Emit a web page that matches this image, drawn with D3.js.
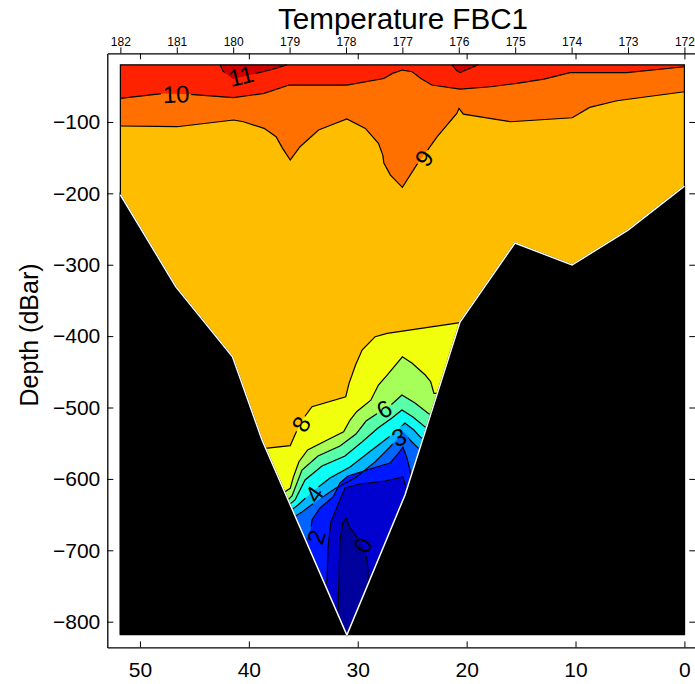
<!DOCTYPE html>
<html>
<head>
<meta charset="utf-8">
<script src="https://cdn.jsdelivr.net/npm/d3@7"></script>
<style>
  body { margin: 0; background: #fff; }
  svg text { font-family: "Liberation Sans", Arial, Helvetica, sans-serif; }
</style>
</head>
<body>
<div id="chart"></div>
<script>
// distance along section (km) and pressure (dBar)
const sectionEdges = [51.8, 0];
const surfaceDepth = -20;
const bottomDepth = -818;

const xTicks = [50, 40, 30, 20, 10, 0];
const yTicks = [-800, -700, -600, -500, -400, -300, -200, -100];
const lonTicks = [182, 181, 180, 179, 178, 177, 176, 175, 174, 173, 172];
const lonAtEdges = [182, 172];

// warm lobes (>11 degC) touching the surface
const lobe11a = [[42.65, -20], [42.38, -28.6], [41.83, -35.6], [41.46, -39.8], [39.9, -34.2], [38.06, -27.2], [36.5, -20]];
const lobe11b = [[21.34, -20], [20.91, -28], [20.61, -31], [18.93, -20]];

// isotherms, ordered from west (left) to east (right)
const iso10 = [[51.8, -67], [47.8, -60], [45.4, -61.3], [41.4, -66], [38.6, -60], [36.3, -48.3], [31.0, -48.3],
  [27.6, -39.2], [26.8, -32], [25.9, -27.3], [25.0, -29.7], [24.2, -39], [23.2, -48.3], [20.6, -54],
  [17.8, -50.7], [15.4, -46], [12.9, -40], [10.5, -31], [5.3, -31], [0, -22.7]];
const iso9 = [[51.8, -105.7], [46.6, -106.7], [41.4, -97.3], [40.5, -99.7], [38.6, -109], [37.5, -120.7],
  [36.9, -137], [36.2, -153.4], [35.3, -134.7], [33.6, -111.3], [32.2, -102.9], [31.0, -95.8], [29.3, -109],
  [28.1, -130], [27.7, -146.4], [27.6, -157.6], [27.0, -174.4], [25.9, -191.6], [24.6, -160.4], [23.8, -144],
  [22.7, -120.7], [20.9, -88], [20.7, -81], [20.3, -89], [16.0, -99.7], [10.3, -94.1], [8.7, -79.6],
  [6.2, -70.3], [0, -57.7]];
const iso8 = [[39.6, -557], [38.5, -557.1], [36.2, -553.5], [35.7, -536.1], [35.1, -517.5], [34.2, -498.9],
  [31.1, -484.9], [30.8, -466.1], [30.2, -440.5], [29.6, -419.5], [28.4, -400.8], [27.3, -396.1],
  [20.6, -381.2], [19.6, -381]];
const iso7 = [[37.9, -620.2], [36.9, -620.2], [36.2, -613.2], [35.9, -596.9], [35.4, -575.9], [34.6, -559.5],
  [32.8, -545.5], [31.3, -533.9], [30.7, -517.5], [30.1, -505.9], [28.8, -489.8], [28.1, -468.5],
  [27.3, -454.5], [25.9, -428.9], [25.0, -438.1], [23.8, -454.5], [23.3, -463.9], [23.0, -480.1], [22.0, -480]];
const iso6 = [[37.9, -636.5], [36.86, -636.5], [36.04, -623.9], [35.12, -587.5], [33.65, -567.9], [31.63, -553.9],
  [30.16, -537.1], [29.24, -518.9], [28.14, -507.7], [26.95, -496.5], [25.94, -482.5], [24.74, -493.7],
  [23.46, -509.1], [22.3, -509]];
const iso5 = [[37.8, -642.1], [36.77, -642.1], [35.76, -629.5], [34.84, -601.5], [33.28, -581.9], [31.17, -567.9],
  [29.61, -548.3], [28.14, -528.7], [26.86, -514.7], [25.94, -503.5], [24.93, -513.3], [23.82, -527.3],
  [22.6, -527]];
const iso4 = [[37.6, -649.1], [36.59, -649.1], [35.49, -636.5], [34.2, -618.3], [32.55, -598.7], [30.71, -583.3],
  [29.06, -563.7], [27.5, -545.5], [26.31, -531.5], [25.67, -521.7], [24.84, -531.5], [24.19, -542.7],
  [23.0, -543]];
const iso3 = [[37.3, -657.5], [36.31, -657.5], [35.12, -646.3], [33.65, -629.5], [31.99, -612.7], [30.24, -598.7],
  [28.42, -576.3], [27.04, -555.3], [26.31, -542.7], [25.76, -534.3], [25.2, -545.5], [24.46, -556.7],
  [23.3, -557]];
const iso2 = [[36.3, -692.6], [35.3, -692.6], [34.38, -678.6], [34.2, -657.5], [33.47, -640.7], [32.27, -625.3],
  [31.63, -605.7], [30.9, -595.9], [28.87, -586.1], [27.04, -577.7], [26.31, -565.1], [25.85, -555.3],
  [25.48, -570.7], [25.2, -587.5], [25.02, -604.3], [24.0, -604]];
const iso1 = [[34.3, -762.6], [33.28, -762.6], [32.82, -741.6], [32.73, -695.4], [32.46, -660.3], [31.91, -639.3],
  [31.17, -612.7], [29.79, -607.1], [27.5, -602.9], [25.85, -597.3], [25.57, -611.3], [25.2, -625.3],
  [24.3, -625]];
const iso0 = [[33.2, -797.6], [32.27, -797.6], [31.81, -783.6], [31.72, -741.6], [31.63, -685.6], [31.35, -660.3],
  [31.07, -654.7], [30.71, -668.8], [29.98, -682.8], [29.24, -702.4], [29.06, -727.6], [29.06, -762.6],
  [28.2, -762.6]];

// sea floor, west to east
const seafloor = [[51.8, -202], [46.7, -331], [41.5, -429], [38.79, -545.5], [31.0, -818.6], [25.66, -622.5],
  [20.61, -380.2], [15.56, -269.6], [10.32, -300.4], [5.18, -251.4], [0, -189.8]];

// contour label anchors: [level, distance, depth]
const labelSpots = [[10, 46.69, -60.9], [11, 40.73, -35.6], [9, 23.91, -150.5], [8, 35.21, -523.1],
  [6, 27.58, -502.1], [3, 26.22, -541.3], [4, 34.02, -621.1], [2, 33.83, -681.4], [0, 29.53, -692.6]];

// drawing -----------------------------------------------------------------
const W = 695, H = 684;
const svg = d3.select("#chart").append("svg")
  .attr("width", W).attr("height", H);

const x = d3.scaleLinear().domain([53, -1]).range([107.3, 695.3]);
const y = d3.scaleLinear().domain([-836, -4]).range([647.4, 53.4]);
const lon = d3.scaleLinear().domain(lonAtEdges).range([x(sectionEdges[0]), x(sectionEdges[1])]);

const line = d3.line().x(p => x(p[0])).y(p => y(p[1]));

// colder-than-level regions, painted warm to cold
const below = pts => {
  const a = pts[0], b = pts[pts.length - 1];
  return line([...pts, [b[0], bottomDepth], [a[0], bottomDepth]]) + "Z";
};

const tilt = { 10: -3, 11: -14, 9: -55, 8: -62, 6: -28, 3: -22, 4: -55, 2: -72, 0: -62 };
const place = d => `translate(${x(d[1])},${y(d[2])}) rotate(${tilt[d[0]]})`;
const labelW = d => String(d[0]).length * 13 + 4;

// gaps in the contour lines where labels sit
const mask = svg.append("defs").append("mask").attr("id", "gaps").attr("maskUnits", "userSpaceOnUse")
  .attr("x", 0).attr("y", 0).attr("width", W).attr("height", H);
mask.append("rect").attr("width", W).attr("height", H).attr("fill", "#fff");
mask.selectAll("rect.gap").data(labelSpots).join("rect")
  .attr("class", "gap")
  .attr("x", d => -labelW(d) / 2).attr("y", -9).attr("width", labelW).attr("height", 18)
  .attr("transform", place).attr("fill", "#000");

const plot = svg.append("g");
const [dW, dE] = sectionEdges;
const box = [[dW, surfaceDepth], [dE, surfaceDepth], [dE, bottomDepth], [dW, bottomDepth]];

plot.append("path").attr("d", line(box) + "Z").attr("fill", "#ff2200");
[lobe11a, lobe11b].forEach(l => plot.append("path").attr("d", line(l) + "Z").attr("fill", "#d00000"));

const isoList = [
  [iso10, "#ff7000"], [iso9, "#ffbd00"], [iso8, "#f2ff0c"], [iso7, "#a6ff58"], [iso6, "#56ffa8"],
  [iso5, "#0cfff2"], [iso4, "#00b8ff"], [iso3, "#0064ff"], [iso2, "#0018ff"], [iso1, "#0000cf"],
  [iso0, "#00009c"]
];
isoList.forEach(([pts, col]) => {
  plot.append("path").attr("d", below(pts)).attr("fill", col);
});

// contour lines
const strokes = plot.append("g").attr("mask", "url(#gaps)")
  .attr("fill", "none").attr("stroke", "#000").attr("stroke-width", 1.2);
[lobe11a, lobe11b].forEach(l => strokes.append("path").attr("d", line(l)));
isoList.forEach(([pts]) => strokes.append("path").attr("d", line(pts)));
plot.append("path").attr("fill", "none").attr("stroke", "#000").attr("stroke-width", 1.2)
  .attr("d", line([[dW, bottomDepth], [dW, surfaceDepth], [dE, surfaceDepth], [dE, bottomDepth]]));

// sea floor
plot.append("path")
  .attr("d", line([...seafloor, [dE, bottomDepth], [dW, bottomDepth]]) + "Z")
  .attr("fill", "#000").attr("stroke", "#000").attr("stroke-width", 1.5);
plot.append("path")
  .attr("d", line(seafloor))
  .attr("fill", "none").attr("stroke", "#fff").attr("stroke-width", 1.5);

// contour labels
plot.selectAll("text.clabel").data(labelSpots).join("text")
  .attr("class", "clabel")
  .attr("text-anchor", "middle").attr("dy", "0.36em")
  .attr("font-size", 24)
  .attr("transform", place)
  .text(d => d[0]);

// axes
const axisStyle = g => {
  g.selectAll(".domain").attr("stroke", "#000").attr("stroke-width", 1.3);
  g.selectAll(".tick line").attr("stroke", "#000");
};

svg.append("g").attr("transform", `translate(0,${y(-836)})`)
  .call(d3.axisBottom(x).tickValues(xTicks).tickSize(-6).tickSizeOuter(0).tickPadding(15))
  .call(axisStyle)
  .call(g => g.selectAll("text").attr("font-size", 21).attr("fill", "#000"));

svg.append("g").attr("transform", `translate(0,${y(-4)})`)
  .call(d3.axisTop(x).tickValues(xTicks).tickSize(-6).tickSizeOuter(0).tickFormat(""))
  .call(axisStyle);

svg.append("g").attr("transform", `translate(0,${y(-4)})`)
  .call(d3.axisTop(lon).tickValues(lonTicks).tickSize(6).tickSizeOuter(0).tickPadding(1.5))
  .call(axisStyle)
  .call(g => g.select(".domain").remove())
  .call(g => g.selectAll("text").attr("font-size", 12).attr("fill", "#000"));

svg.append("g").attr("transform", `translate(${x(53)},0)`)
  .call(d3.axisLeft(y).tickValues(yTicks).tickSize(-6).tickSizeOuter(0).tickPadding(7))
  .call(axisStyle)
  .call(g => g.selectAll("text").attr("font-size", 21).attr("fill", "#000"));

svg.append("g").attr("transform", `translate(${x(-1)},0)`)
  .call(d3.axisRight(y).tickValues(yTicks).tickSize(-6).tickSizeOuter(0).tickFormat(""))
  .call(axisStyle);

// titles
svg.append("text")
  .attr("x", 403).attr("y", 28.5)
  .attr("text-anchor", "middle")
  .attr("font-size", 29)
  .attr("textLength", 250).attr("lengthAdjust", "spacingAndGlyphs")
  .text("Temperature FBC1");

svg.append("text")
  .attr("transform", "translate(38,335) rotate(-90)")
  .attr("text-anchor", "middle")
  .attr("font-size", 25)
  .text("Depth (dBar)");
</script>
</body>
</html>
